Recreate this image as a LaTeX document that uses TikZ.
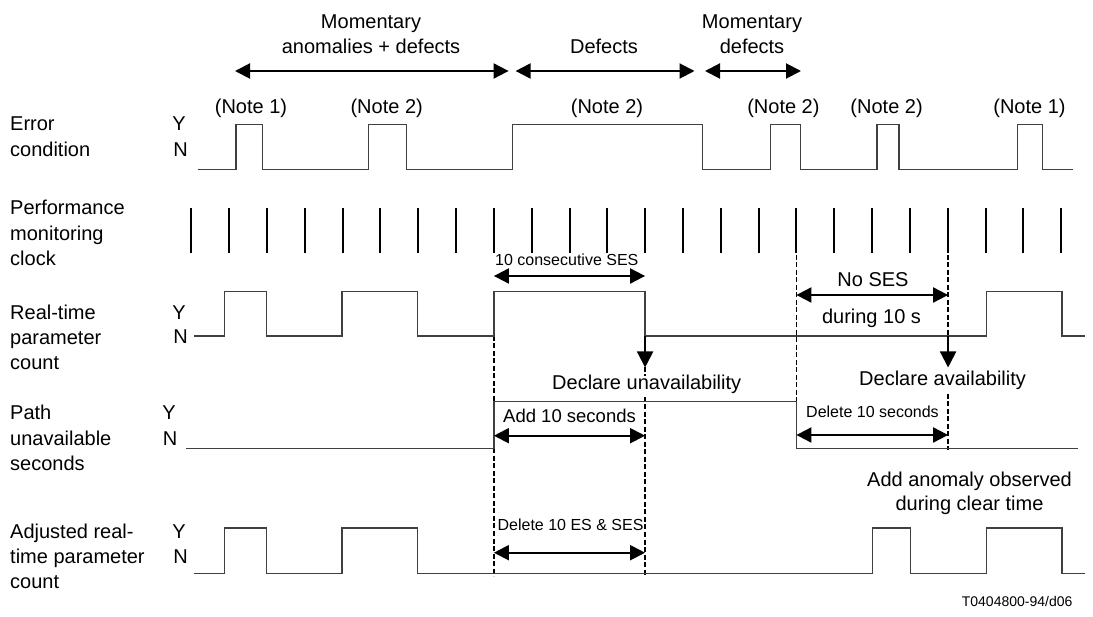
\documentclass[tikz,border=0pt]{standalone}
\usepackage{fontspec}
\setmainfont{Liberation Sans}
\usetikzlibrary{arrows.meta}
\tikzset{
  wave/.style={line width=1.3pt, draw=black!75},
  clk/.style={line width=2pt},
  dim/.style={line width=2pt, {Triangle[length=15pt,width=15pt]}-{Triangle[length=15pt,width=15pt]}},
  downarr/.style={line width=2pt, -{Triangle[length=16pt,width=16pt]}},
  dsh/.style={line width=1.4pt, dash pattern=on 5pt off 2.5pt},
  lbl/.style={font=\fontsize{20}{25}\selectfont, inner sep=0pt},
  mid/.style={font=\fontsize{18.5}{22}\selectfont, inner sep=0pt},
  sml/.style={font=\fontsize{16}{19}\selectfont, inner sep=0pt},
  tiny/.style={font=\fontsize{14}{17}\selectfont, inner sep=0pt},
}
\begin{document}
\begin{tikzpicture}[x=1pt,y=-1pt]
\useasboundingbox (0,0) rectangle (1093,617);

% ---------- top period labels ----------
\node[lbl,anchor=base] (m1a) at (371,28.7) {Momentary};
\node[lbl,anchor=base] (m1b) at (371,53.7) {anomalies + defects};
\node[lbl,anchor=base] (d1) at (604,54) {Defects};
\node[lbl,anchor=base] (m2a) at (752,29) {Momentary};
\node[lbl,anchor=base] (m2b) at (752,54) {defects};
\coordinate (p1l) at (235,71);   \coordinate (p1r) at (508.6,71);
\coordinate (p2l) at (515.6,71); \coordinate (p2r) at (694.5,71);
\coordinate (p3l) at (705,71);   \coordinate (p3r) at (801,71);
\draw[dim] (p1l) -- (p1r);
\draw[dim] (p2l) -- (p2r);
\draw[dim] (p3l) -- (p3r);

% ---------- notes ----------
\node[lbl,anchor=base] (n1) at (251,114) {(Note 1)};
\node[lbl,anchor=base] (n2) at (386.7,114) {(Note 2)};
\node[lbl,anchor=base] (n3) at (607,114) {(Note 2)};
\node[lbl,anchor=base] (n4) at (783.4,114) {(Note 2)};
\node[lbl,anchor=base] (n5) at (886.6,114) {(Note 2)};
\node[lbl,anchor=base] (n6) at (1029.5,114) {(Note 1)};

% ---------- left labels ----------
\node[lbl,anchor=base west] (e1) at (10,131) {Error};
\node[lbl,anchor=base west] (e2) at (10,157) {condition};
\node[lbl,anchor=base] (ey) at (179,131) {Y};
\node[lbl,anchor=base] (en) at (180.5,157) {N};

\node[lbl,anchor=base west] (c1) at (10,215) {Performance};
\node[lbl,anchor=base west] (c2) at (10,240.5) {monitoring};
\node[lbl,anchor=base west] (c3) at (10,266) {clock};

\node[lbl,anchor=base west] (r1) at (10,320) {Real-time};
\node[lbl,anchor=base west] (r2) at (10,345) {parameter};
\node[lbl,anchor=base west] (r3) at (10,370) {count};
\node[lbl,anchor=base] (ry) at (179,320) {Y};
\node[lbl,anchor=base] (rn) at (180.5,344) {N};

\node[lbl,anchor=base west] (u1) at (10,420) {Path};
\node[lbl,anchor=base west] (u2) at (10,446) {unavailable};
\node[lbl,anchor=base west] (u3) at (10,470.5) {seconds};
\node[lbl,anchor=base] (uy) at (169,420) {Y};
\node[lbl,anchor=base] (un) at (170,446) {N};

\node[lbl,anchor=base west] (j1) at (10,538.5) {Adjusted real-};
\node[lbl,anchor=base west] (j2) at (10,563.5) {time parameter};
\node[lbl,anchor=base west] (j3) at (10,588.5) {count};
\node[lbl,anchor=base] (jy) at (179,538.5) {Y};
\node[lbl,anchor=base] (jn) at (180.5,563.5) {N};

% ---------- error condition ----------
\draw[wave] (198,169.3) -- (236.1,169.3) -- (236.1,124.3) -- (262.4,124.3) -- (262.4,169.3)
  -- (368.3,169.3) -- (368.3,124.3) -- (406.2,124.3) -- (406.2,169.3)
  -- (512.8,169.3) -- (512.8,124.3) -- (702.3,124.3) -- (702.3,169.3)
  -- (770.3,169.3) -- (770.3,124.3) -- (800.3,124.3) -- (800.3,169.3)
  -- (876.9,169.3) -- (876.9,124.3) -- (899.1,124.3) -- (899.1,169.3)
  -- (1017.2,169.3) -- (1017.2,124.3) -- (1042.6,124.3) -- (1042.6,169.3) -- (1072.6,169.3);

% ---------- clock ----------
\foreach \i in {0,...,23} {
  \draw[clk] ({191.2+37.83*\i},208.3) -- ({191.2+37.83*\i},252.7);
}

% ---------- dashed guide lines ----------
\draw[dsh] (493.9,336) -- (493.9,576);
\draw[dsh] (645.1,367) -- (645.1,576);
\draw[dsh] (796.4,255) -- (796.4,401.5);
\draw[dsh] (948.1,255) -- (948.1,336);
\draw[dsh] (948.1,394) -- (948.1,450);

% ---------- real-time parameter count ----------
\draw[wave] (194,336) -- (224.5,336) -- (224.5,291.7) -- (266.6,291.7) -- (266.6,336)
  -- (342,336) -- (342,291.7) -- (417.4,291.7) -- (417.4,336)
  -- (493.9,336) -- (493.9,291.7) -- (645.1,291.7) -- (645.1,336)
  -- (986.2,336) -- (986.2,291.7) -- (1062,291.7) -- (1062,336) -- (1085,336);

\node[sml,anchor=base west] (cons) at (495,265.5) {10 consecutive SES};
\coordinate (csl) at (493.9,276); \coordinate (csr) at (645.1,276);
\draw[dim] (csl) -- (csr);

\node[lbl,anchor=base] (noses) at (873,287) {No SES};
\node[lbl,anchor=base] (dur) at (871.5,323.7) {during 10 s};
\coordinate (nsl) at (796.4,295); \coordinate (nsr) at (948.1,295);
\draw[dim] (nsl) -- (nsr);

\coordinate (du0) at (645.1,336); \coordinate (du1) at (645.1,367.5);
\draw[downarr] (du0) -- (du1);
\coordinate (da0) at (948.1,336); \coordinate (da1) at (948.1,367.5);
\draw[downarr] (da0) -- (da1);
\node[lbl,anchor=base,fill=white] (decu) at (646.7,390) {Declare unavailability};
\node[lbl,anchor=base] (deca) at (942.6,385.3) {Declare availability};

% ---------- path unavailable seconds ----------
\draw[wave] (185.9,448.3) -- (493.9,448.3) -- (493.9,401.5) -- (796.4,401.5) -- (796.4,448.3) -- (1077.9,448.3);
\node[mid,anchor=base west] (add10) at (503,422.3) {Add 10 seconds};
\coordinate (asl) at (493.9,435.7); \coordinate (asr) at (645.1,435.7);
\draw[dim] (asl) -- (asr);
\node[sml,anchor=base] (del10) at (872.5,418) {Delete 10 seconds};
\coordinate (dsl) at (796.4,435); \coordinate (dsr) at (948.1,435);
\draw[dim] (dsl) -- (dsr);

% ---------- adjusted count ----------
\draw[wave] (194,573.5) -- (224.5,573.5) -- (224.5,528) -- (266.6,528) -- (266.6,573.5)
  -- (342,573.5) -- (342,528) -- (417.4,528) -- (417.4,573.5)
  -- (872.6,573.5) -- (872.6,528) -- (910.4,528) -- (910.4,573.5)
  -- (986.2,573.5) -- (986.2,528) -- (1062,528) -- (1062,573.5) -- (1085,573.5);
\node[sml,anchor=base west] (dele) at (497.4,530.7) {Delete 10 ES \& SES};
\coordinate (esl) at (493.9,552.7); \coordinate (esr) at (645.1,552.7);
\draw[dim] (esl) -- (esr);
\node[lbl,anchor=base] (ad1) at (969.5,487) {Add anomaly observed};
\node[lbl,anchor=base] (ad2) at (969.5,511) {during clear time};

\node[tiny,anchor=base east] (ref) at (1072.6,606.7) {T0404800-94/d06};
\end{tikzpicture}
\end{document}
